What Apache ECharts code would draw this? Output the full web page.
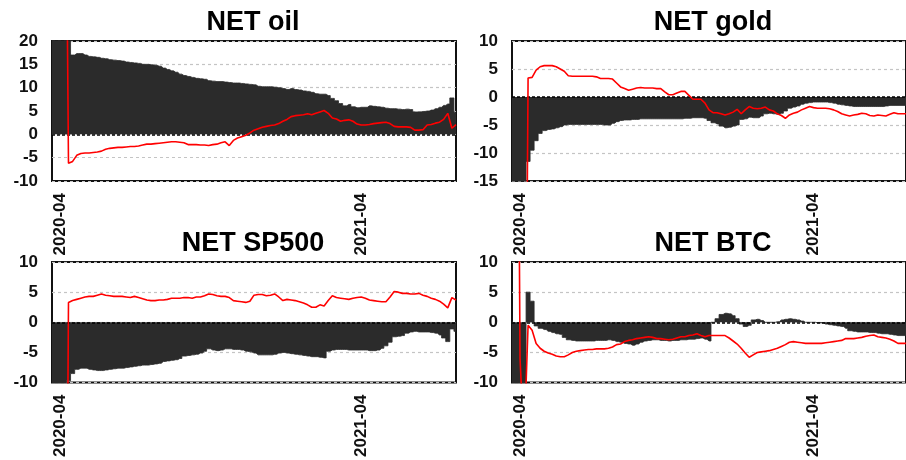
<!DOCTYPE html>
<html><head><meta charset="utf-8">
<script src="https://cdn.jsdelivr.net/npm/echarts@6/dist/echarts.min.js"></script>
<style>html,body{margin:0;padding:0;background:#fff}#c{width:906px;height:460px}</style>
</head><body><div id="c"></div>
<script>
// ---- data ----
const startDate = [2020, 2, 22];   // 2020-03-22
const stepDays = 5;
const nPoints = 99;
const tickLabels = ['2020-04', '2021-04'];
const titles = ['NET oil', 'NET gold', 'NET SP500', 'NET BTC'];

const oilNet = [30,30,30,30,
30,17.0,17.3,17.3,17.0,16.7,16.6,16.5,16.3,16.2,
16.0,15.9,15.8,15.7,15.5,15.4,15.3,15.2,15.0,15.0,
14.9,14.8,14.6,14.2,13.9,13.6,13.3,12.9,12.6,12.4,
12.2,12.0,11.9,11.8,11.5,11.4,11.3,11.3,11.2,11.1,
11.0,11.0,10.9,10.8,10.7,10.6,10.3,10.2,10.2,10.2,
10.1,10.0,9.8,9.6,9.8,9.6,9.5,9.3,9.2,9.0,
8.7,8.6,8.6,8.3,7.7,7.2,6.6,6.1,6.4,5.9,
5.7,5.8,5.8,6.1,6.0,5.9,5.8,5.6,5.5,5.5,
5.4,5.3,5.4,5.3,4.8,4.8,4.9,5.0,5.2,5.5,
5.8,6.2,6.5,7.8,4.7];
const oilLine = [100,100,100,100,
-6.2,-5.8,-4.5,-4.1,-4.0,-4.0,-3.9,-3.8,-3.6,-3.2,
-3.0,-2.9,-2.8,-2.8,-2.7,-2.6,-2.6,-2.5,-2.3,-2.1,
-2.1,-2.0,-1.9,-1.8,-1.7,-1.6,-1.6,-1.7,-1.8,-2.2,
-2.2,-2.2,-2.3,-2.3,-2.4,-2.2,-2.1,-1.8,-1.6,-2.4,
-1.3,-0.8,-0.5,-0.2,0.3,0.9,1.2,1.5,1.7,1.9,
2.0,2.3,2.8,3.2,3.8,4.0,4.1,4.2,4.4,4.2,
4.5,4.8,5.1,4.5,3.5,3.3,2.8,3.0,3.1,2.8,
2.2,2.0,2.0,2.1,2.3,2.4,2.5,2.6,2.3,1.7,
1.6,1.6,1.6,1.5,0.9,0.9,1.0,2.0,2.1,2.4,
2.6,3.2,4.5,1.3,2.1];

const goldNet = [-20,-20,-20,-20,
-11.5,-9.5,-7.8,-6.5,-6.0,-5.8,-5.7,-5.5,-5.3,-5.0,
-4.9,-4.9,-4.9,-4.9,-4.9,-4.9,-4.9,-4.9,-4.9,-5.0,
-5.0,-4.7,-4.4,-4.2,-4.1,-4.1,-4.0,-4.0,-3.9,-3.9,
-3.9,-3.9,-3.9,-3.9,-3.9,-3.9,-3.9,-3.9,-3.9,-3.8,
-3.8,-3.7,-3.7,-3.7,-3.8,-4.2,-4.6,-4.8,-5.2,-5.5,
-5.4,-5.2,-5.0,-4.0,-3.9,-3.6,-3.7,-3.7,-3.4,-3.0,
-2.9,-3.0,-3.1,-2.9,-2.5,-2.0,-1.8,-1.6,-1.3,-1.1,
-1.0,-0.9,-0.9,-0.9,-0.9,-1.0,-1.1,-1.3,-1.4,-1.5,
-1.6,-1.7,-1.7,-1.7,-1.7,-1.7,-1.7,-1.7,-1.7,-1.6,
-1.5,-1.5,-1.5,-1.5,-1.5];
const goldLine = [-100,-100,-100,-100,
3.4,3.5,4.8,5.4,5.6,5.6,5.6,5.4,5.0,4.6,
3.8,3.7,3.7,3.7,3.7,3.7,3.7,3.6,3.3,3.3,
3.3,3.2,2.5,1.8,1.5,1.2,1.4,1.6,1.7,1.6,
1.6,1.6,1.5,1.5,0.9,0.4,0.4,0.7,1.0,1.0,
0.3,-0.4,-0.4,-0.4,-1.1,-2.3,-2.8,-2.8,-3.0,-3.2,
-3.0,-2.7,-2.2,-3.0,-2.3,-1.7,-2.0,-2.1,-2.0,-1.8,
-2.3,-2.5,-3.0,-3.3,-3.8,-3.2,-2.9,-2.7,-2.3,-2.0,
-1.7,-1.9,-2.0,-2.0,-2.0,-2.1,-2.3,-2.6,-3.0,-3.2,
-3.4,-3.2,-3.1,-2.9,-3.0,-3.3,-3.4,-3.2,-3.3,-3.4,
-3.1,-2.8,-3.0,-3.0,-3.0];

const spNet = [-20,-20,-20,-20,
-9.7,-8.5,-7.8,-7.6,-7.6,-7.8,-7.9,-8.0,-8.0,-7.9,
-7.8,-7.7,-7.6,-7.6,-7.5,-7.4,-7.3,-7.2,-7.1,-7.1,
-7.0,-6.9,-6.8,-6.5,-6.4,-6.3,-6.2,-6.0,-5.6,-5.5,
-5.4,-5.3,-5.1,-4.8,-4.4,-4.6,-4.7,-4.6,-4.4,-4.4,
-4.5,-4.5,-4.6,-4.8,-4.9,-5.1,-5.4,-5.4,-5.4,-5.4,
-5.3,-5.1,-5.0,-5.1,-5.2,-5.3,-5.4,-5.5,-5.6,-5.7,
-5.7,-5.8,-5.9,-4.8,-4.6,-4.5,-4.5,-4.5,-4.6,-4.6,
-4.6,-4.6,-4.6,-4.7,-4.7,-4.6,-4.3,-3.9,-3.3,-2.4,
-2.3,-2.2,-1.8,-1.6,-1.5,-1.6,-1.6,-1.6,-1.7,-1.8,
-2.1,-2.6,-3.2,-1.1,-1.5];
const spLine = [-100,-100,-100,-100,
3.3,3.6,3.8,4.0,4.2,4.3,4.3,4.5,4.7,4.5,
4.4,4.3,4.3,4.3,4.2,4.1,4.3,4.1,3.9,3.7,
3.6,3.6,3.7,3.7,3.8,4.0,4.0,4.0,4.1,4.1,
4.0,4.2,4.2,4.4,4.7,4.6,4.4,4.3,4.3,4.1,
3.6,3.5,3.4,3.3,3.5,4.5,4.6,4.6,4.4,4.5,
4.7,4.2,3.6,3.8,3.7,3.6,3.4,3.2,2.9,2.5,
2.5,2.9,2.7,3.6,4.4,4.1,4.0,3.9,3.8,4.0,
4.1,4.2,4.0,3.7,3.6,3.5,3.4,3.4,4.2,5.1,
5.0,4.8,4.8,4.7,4.7,4.8,4.5,4.3,4.0,3.8,
3.5,3.0,2.4,4.1,3.7];

const btcNet = [-20,-20,-20,-20,
5.0,3.5,-0.6,-1.0,-1.2,-1.5,-1.7,-1.9,-2.0,-2.5,
-2.9,-3.0,-3.1,-3.1,-3.1,-3.1,-3.1,-3.0,-3.0,-3.0,
-2.9,-3.0,-3.2,-3.3,-3.5,-3.6,-3.8,-3.6,-3.3,-3.1,
-3.0,-2.9,-2.9,-3.0,-3.0,-3.1,-3.0,-3.0,-2.9,-2.9,
-2.8,-2.8,-2.7,-2.6,-2.8,-3.1,0.0,0.6,1.3,1.5,
1.4,1.1,0.6,-0.3,-0.7,-0.5,0.4,0.5,0.3,0.0,
0.0,0.0,0.1,0.4,0.5,0.6,0.5,0.4,0.2,0.0,
0.0,0.0,-0.1,-0.1,-0.3,-0.4,-0.5,-0.6,-0.7,-1.0,
-1.4,-1.5,-1.6,-1.6,-1.6,-1.7,-1.7,-1.8,-1.9,-1.9,
-2.0,-2.1,-2.2,-2.2,-2.2];
const btcLine = [100,100,-6,-20,
-0.5,-1.3,-3.5,-4.3,-4.8,-5.1,-5.3,-5.6,-5.7,-5.7,
-5.4,-5.0,-4.8,-4.7,-4.6,-4.5,-4.5,-4.4,-4.4,-4.4,
-4.3,-4.1,-3.7,-3.6,-3.2,-3.0,-2.9,-2.7,-2.6,-2.5,
-2.4,-2.5,-2.7,-2.7,-2.8,-2.9,-2.8,-2.6,-2.4,-2.4,
-2.2,-2.1,-1.9,-2.2,-2.4,-2.2,-2.2,-2.2,-2.2,-2.2,
-2.6,-3.1,-3.6,-4.3,-5.1,-5.8,-5.4,-5.0,-4.9,-4.8,
-4.7,-4.5,-4.3,-4.0,-3.7,-3.3,-3.2,-3.3,-3.4,-3.5,
-3.5,-3.5,-3.5,-3.5,-3.4,-3.3,-3.2,-3.1,-3.0,-2.7,
-2.7,-2.7,-2.6,-2.5,-2.3,-2.2,-2.1,-2.4,-2.5,-2.6,
-2.8,-3.1,-3.5,-3.5,-3.5];

const yMins = [-10, -15, -10, -10];
const yMaxs = [20, 10, 10, 10];

// ---- build ----
const categories = [];
for (let i = 0; i < nPoints; i++) {
  const d = new Date(Date.UTC(startDate[0], startDate[1], startDate[2]) + i * stepDays * 86400000);
  categories.push(d.toISOString().slice(0, 10));
}
const netSeries = [oilNet, goldNet, spNet, btcNet];
const lineSeries = [oilLine, goldLine, spLine, btcLine];

const layout = [
  {left: 52, top: 41}, {left: 512, top: 41},
  {left: 52, top: 262}, {left: 512, top: 262}
];
const gridW = 404, gridH = 140;
const FONT = '"Liberation Sans", Arial, sans-serif';
const DARK = '#2b2b2b';

const option = {
  animation: false,
  backgroundColor: '#fff',
  title: titles.map((t, k) => ({
    text: t,
    left: layout[k].left + gridW / 2 - 1,
    textAlign: 'center',
    top: layout[k].top - 32,
    padding: 0,
    textStyle: {fontFamily: FONT, fontWeight: 'bold', fontSize: 27, color: '#000'}
  })),
  grid: layout.map(l => ({
    left: l.left, top: l.top, width: gridW, height: gridH,
    show: true, borderColor: '#111', borderWidth: 2, backgroundColor: '#fff',
    containLabel: false
  })),
  xAxis: layout.map((l, k) => ({
    type: 'category', gridIndex: k, data: categories, boundaryGap: false,
    axisLine: {show: false}, axisTick: {show: false}, splitLine: {show: false},
    axisLabel: {
      rotate: 90, margin: 12,
      interval: (idx, val) => tickLabels.some(t => val === t + '-01'),
      formatter: v => v.slice(0, 7),
      fontFamily: FONT, fontWeight: 'bold', fontSize: 17, color: '#111'
    }
  })),
  yAxis: layout.map((l, k) => ({
    type: 'value', gridIndex: k, min: yMins[k], max: yMaxs[k], interval: 5,
    axisLine: {show: false}, axisTick: {show: false},
    splitLine: {show: true, lineStyle: {color: '#c4c4c4', type: [3, 3], width: 1.2}},
    axisLabel: {margin: 14, fontFamily: FONT, fontWeight: 'bold', fontSize: 17, color: '#111'}
  })),
  series: []
};

for (let k = 0; k < 4; k++) {
  option.series.push({
    type: 'line', xAxisIndex: k, yAxisIndex: k, data: netSeries[k],
    step: 'middle', symbol: 'none', clip: true, silent: true, z: 2,
    lineStyle: {color: DARK, width: 0.8},
    areaStyle: {color: DARK, opacity: 1, origin: 'auto'}
  });
  option.series.push({
    type: 'line', xAxisIndex: k, yAxisIndex: k, data: lineSeries[k],
    symbol: 'none', clip: true, silent: true, z: 5,
    lineStyle: {color: '#ff0000', width: 1.6},
    markLine: {
      silent: true, symbol: 'none', label: {show: false}, animation: false,
      lineStyle: {color: '#000', type: [3, 2], width: 1.5},
      data: [{yAxis: 0}]
    }
  });
}

const chart = echarts.init(document.getElementById('c'), null, {renderer: 'canvas'});
chart.setOption(option);
</script>
</body></html>
